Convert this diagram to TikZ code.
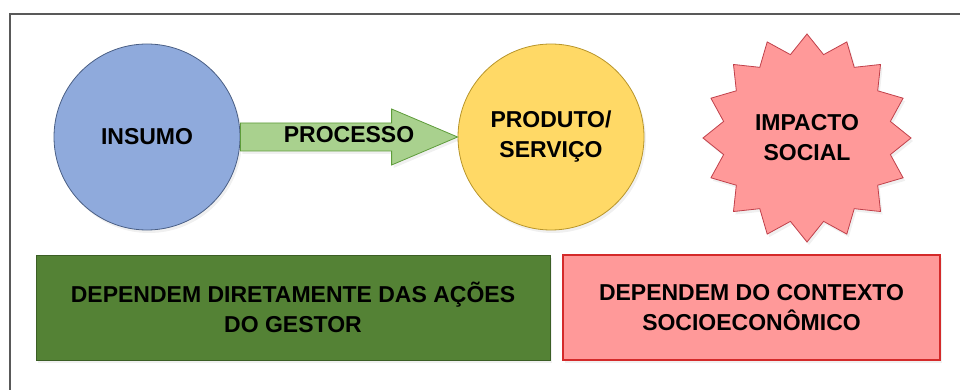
\documentclass[tikz,border=0pt]{standalone}
\usepackage{fontspec}
\setmainfont{Liberation Sans}
\usepackage{xcolor}
\usepackage{tikz}
\usetikzlibrary{calc}
\usetikzlibrary{shadows}
\usetikzlibrary{positioning}

\definecolor{insumofill}{HTML}{8FAADC}
\definecolor{insumoline}{HTML}{4A5F85}
\definecolor{arrowfill}{HTML}{A9D18E}
\definecolor{arrowline}{HTML}{5E9C3A}
\definecolor{prodfill}{HTML}{FFD966}
\definecolor{prodline}{HTML}{B8952A}
\definecolor{starfill}{HTML}{FF9999}
\definecolor{starline}{HTML}{C0404A}
\definecolor{gestorfill}{HTML}{548235}
\definecolor{gestorline}{HTML}{3B5E25}
\definecolor{ctxline}{HTML}{D42A2A}
\definecolor{frameline}{HTML}{595959}

\begin{document}
\begin{tikzpicture}[x=1pt,y=-1pt]
    \tikzstyle{every node}=[font=\bfseries\fontsize{23}{30}\selectfont,align=center,line width=0.8pt]
    \tikzstyle{bubble}=[circle,minimum size=186pt,inner sep=0pt]
    \tikzstyle{wbox}=[rectangle,minimum height=105pt,inner sep=0pt]
    \tikzstyle{soft}=[drop shadow={opacity=0.12,shadow xshift=2pt,shadow yshift=-3pt}]

    \useasboundingbox (0,0) rectangle (960,390) ;
    \draw[frameline,line width=2.5pt] (10,400) -- (10,14) -- (962,14) ;

    \node[bubble,soft,fill=insumofill,draw=insumoline] (insumo) at (147,137) {INSUMO} ;
    \node[bubble,soft,fill=prodfill,draw=prodline] (produto) at (551,137) {PRODUTO/\\SERVIÇO} ;

    % 16-point star behind the label
    \coordinate (starpos) at (807,138) ;
    \filldraw[soft,fill=starfill,draw=starline,line width=0.8pt,shift={(starpos)}]
        (90:104) \foreach \k in {1,...,31}{ -- ({90+\k*11.25}:{ifthenelse(mod(\k,2)==0,104,85)}) } -- cycle ;
    \node (impacto) at (starpos) {IMPACTO\\SOCIAL} ;

    \node[wbox,soft,minimum width=514pt,fill=gestorfill,draw=gestorline] (gestor) at (293,307.5)
        {DEPENDEM DIRETAMENTE DAS AÇÕES\\DO GESTOR} ;
    \node[wbox,soft,minimum width=377pt,fill=starfill,draw=ctxline,line width=1.6pt] (contexto) at (751.5,307.5)
        {DEPENDEM DO CONTEXTO\\SOCIOECONÔMICO} ;

    % block arrow from insumo to produto
    \draw[soft,fill=arrowfill,draw=arrowline,line width=0.8pt]
        ($(insumo.east)+(0,-14)$) -- ($(produto.west)+(-66,-14)$) -- ($(produto.west)+(-66,-28)$)
        -- (produto.west)
        -- ($(produto.west)+(-66,28)$) -- ($(produto.west)+(-66,14)$) -- ($(insumo.east)+(0,14)$) -- cycle ;
    \node (processo) at ($(insumo.east)!0.5!(produto.west)+(0,-2)$) {PROCESSO} ;

  \end{tikzpicture}
\end{document}
